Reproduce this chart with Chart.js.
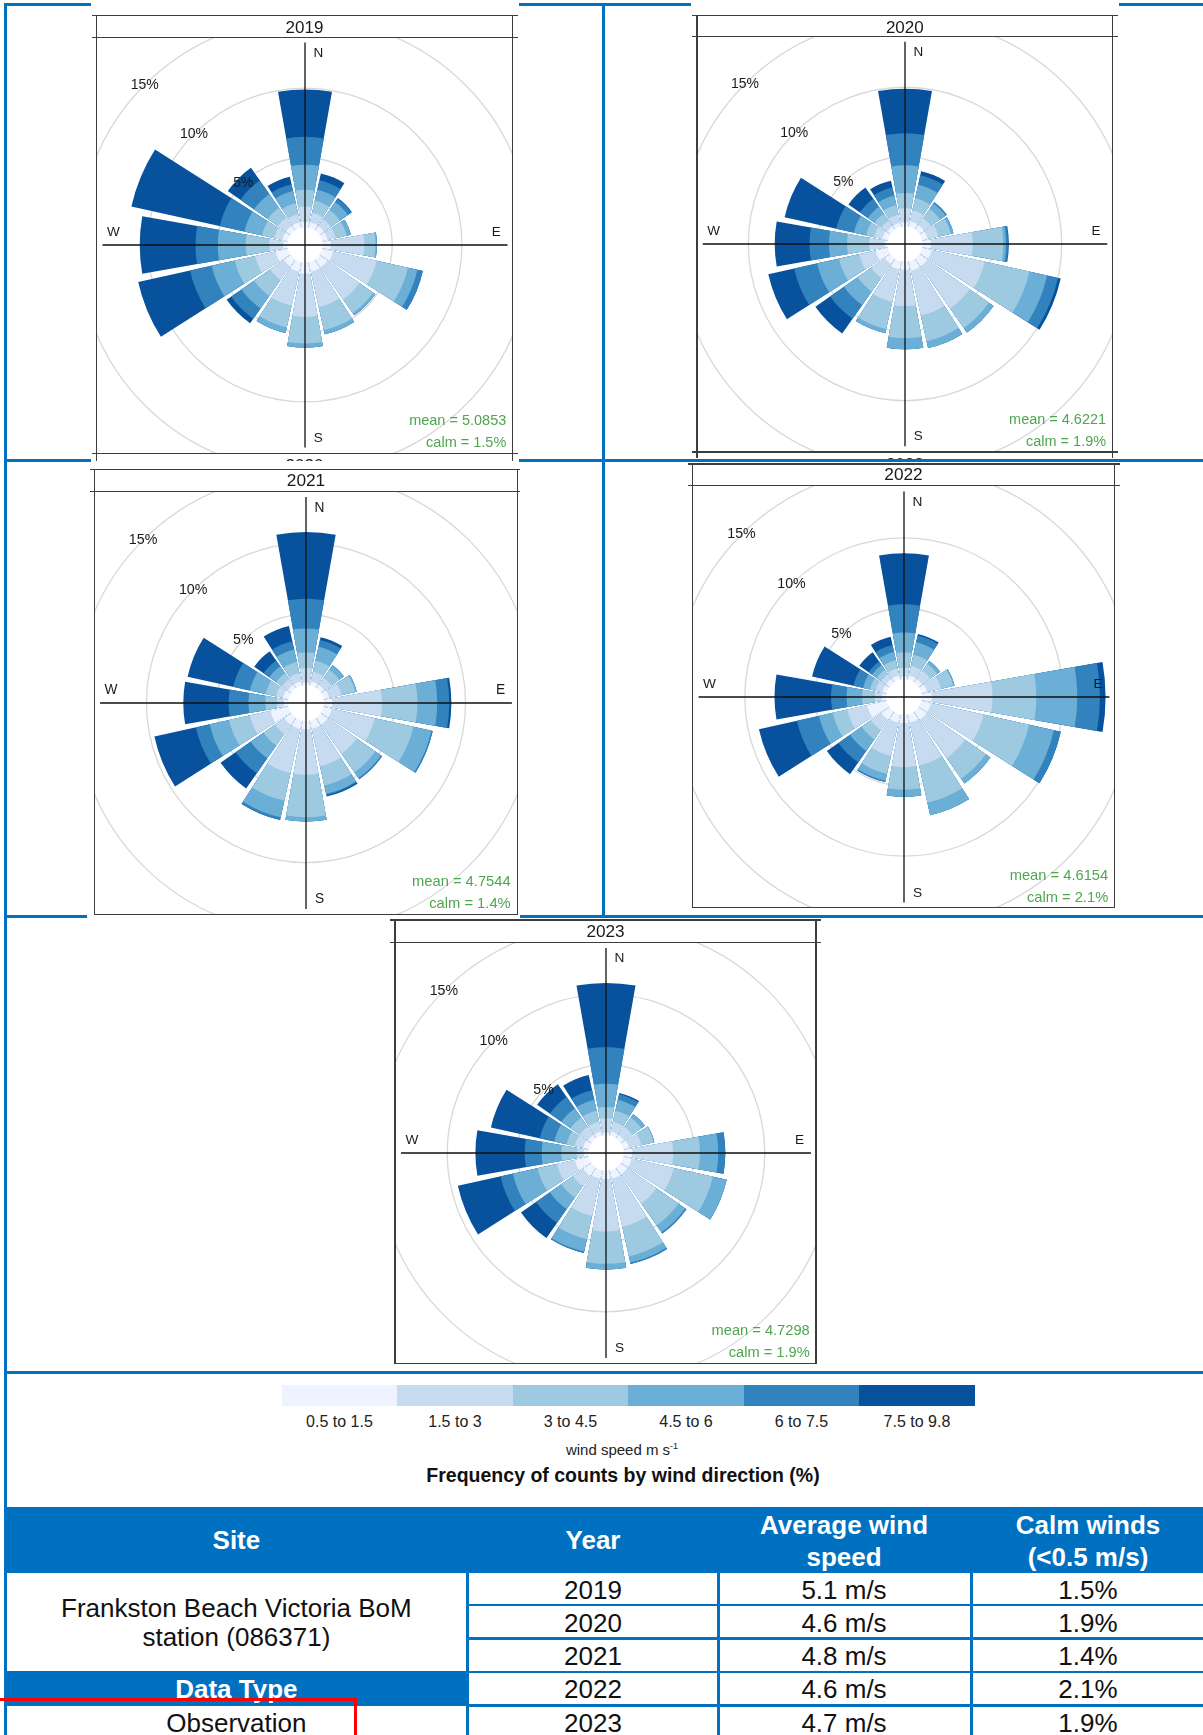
<!DOCTYPE html>
<html lang="en">
<head>
<meta charset="utf-8">
<title>Frankston Beach wind roses 2019–2023</title>
<script src="https://cdn.jsdelivr.net/npm/chart.js@4.4.1/dist/chart.umd.min.js"></script>
<style>
  html, body { margin: 0; padding: 0; background: #fff; }
  body { position: relative; width: 1203px; height: 1735px; overflow: hidden;
         font-family: "Liberation Sans", Arial, Helvetica, sans-serif; color: #111; }
  .box { position: absolute; }
  .plot { position: absolute; overflow: hidden; }
  .plot canvas { position: absolute; }
  .clip { position: absolute; overflow: hidden; }
  .t { position: absolute; white-space: nowrap; transform: translate(-50%, -50%);
       line-height: 1; text-align: center; }
  sup { font-size: 9px; line-height: 0; vertical-align: 6px; }
</style>
</head>
<body>
<script>
// ---- wind rose data: frequency (%) per direction and speed bin ----
const directions = ['N','NNE','NE','ENE','E','ESE','SE','SSE','S','SSW','SW','WSW','W','WNW','NW','NNW'];
const speedBins  = ['0.5 to 1.5','1.5 to 3','3 to 4.5','4.5 to 6','6 to 7.5','7.5 to 9.8'];
const binColours = ['#EFF3FF','#C6DBEF','#9ECAE1','#6BAED6','#3182BD','#08519C'];
const years      = ['2019','2020','2021','2022','2023'];
const meanSpeed  = ['5.0853','4.6221','4.7544','4.6154','4.7298'];
const calmShare  = ['1.5%','1.9%','1.4%','2.1%','1.9%'];
const ringTicks  = [5, 10, 15];

const freq2019 = [
  [0.4,1.1,1.2,1.8,2.0,3.4],[0.4,0.7,0.9,0.8,0.7,0.5],[0.4,0.6,0.8,0.7,0.3,0.05],[0.4,0.6,0.8,0.3,0,0],
  [0.6,2.4,0.8,0.1,0,0],[0.8,3.2,2.3,0.7,0.4,0],[0.7,2.8,1.2,0.2,0,0],[0.7,2.6,1.7,0.3,0,0],
  [0.8,3.1,1.9,0.3,0,0],[0.7,2.5,1.6,0.4,0,0],[0.6,1.2,1.4,1.1,0.9,0.4],[0.9,1.5,1.5,1.7,1.6,3.8],
  [0.3,1.0,1.7,2.0,1.6,4.0],[0.4,0.6,0.9,1.3,1.8,6.5],[0.4,0.7,0.9,1.2,1.2,1.1],[0.4,0.6,0.8,0.9,0.5,0.55]
];
const freq2020 = [
  [0.3,1.0,1.1,2.0,2.3,3.2],[0.4,0.8,0.9,1.0,0.7,0.3],[0.4,0.6,0.8,0.5,0.1,0],[0.4,0.8,0.9,0.2,0,0],
  [0.6,3.0,2.2,0.2,0.15,0.05],[0.7,3.9,3.3,1.3,0.8,0.2],[0.7,3.7,1.7,0.4,0,0],[0.7,3.3,1.9,0.5,0,0],
  [0.6,2.6,2.3,0.8,0,0],[0.6,2.4,2.0,0.3,0,0],[0.5,1.2,1.2,1.2,1.2,1.3],[0.9,1.2,1.5,1.6,1.7,1.9],
  [0.2,1.1,1.6,1.3,1.4,2.5],[0.4,0.6,0.6,0.9,1.3,3.8],[0.3,0.5,0.6,0.6,0.7,1.0],[0.3,0.6,0.7,0.7,0.6,0.5]
];
const freq2021 = [
  [0.2,1.0,1.1,1.7,2.1,4.7],[0.3,0.7,0.8,1.0,0.5,0.2],[0.3,0.6,0.7,0.4,0,0],[0.4,0.9,1.0,0.1,0,0],
  [0.6,3.5,2.5,1.4,0.85,0.15],[0.6,3.1,2.8,1.3,0.1,0],[0.6,2.5,1.6,0.5,0.1,0],[0.6,2.7,1.4,0.6,0.1,0.1],
  [0.6,3.2,3.0,0.3,0,0],[0.6,3.2,2.0,1.2,0.2,0],[0.6,0.8,1.0,1.1,1.3,1.3],[1.3,1.5,1.5,1.4,1.0,3.0],
  [0.3,0.5,0.8,1.2,1.4,3.2],[0.4,0.5,0.75,1.15,1.2,3.3],[0.3,0.5,0.5,0.6,0.5,0.8],[0.3,0.6,0.8,0.9,0.6,1.1]
];
const freq2022 = [
  [0.2,0.6,1.1,1.4,2.0,3.6],[0.3,0.7,0.8,0.9,0.5,0.1],[0.3,0.7,0.6,0.25,0,0],[0.4,1.0,0.9,0.1,0,0],
  [0.7,4.3,3.1,2.9,1.6,0.4],[0.7,3.8,3.3,1.8,0.5,0],[0.7,3.3,1.8,0.4,0,0],[0.6,3.1,2.7,0.9,0,0],
  [0.6,3.1,1.6,0.5,0,0],[0.6,2.4,1.3,0.5,0.1,0],[0.7,0.9,0.8,1.0,1.0,1.0],[1.4,1.45,1.05,1.0,1.6,2.75],
  [0.3,0.5,0.9,1.1,1.1,4.0],[0.3,0.5,0.4,0.5,0.7,3.0],[0.3,0.4,0.4,0.4,0.3,0.8],[0.3,0.5,0.6,0.6,0.5,0.6]
];
const freq2023 = [
  [0.2,1.0,0.8,1.65,2.6,4.55],[0.3,0.7,0.8,0.8,0.4,0.1],[0.3,0.7,0.8,0.3,0,0],[0.4,0.9,0.9,0.05,0,0],
  [0.6,2.9,1.9,1.3,0.5,0],[0.6,3.05,2.85,1.0,0,0],[0.6,2.5,1.9,0.6,0.1,0],[0.6,3.5,2.15,0.45,0.1,0],
  [0.6,3.7,2.3,0.4,0,0],[0.6,2.7,1.7,0.9,0.1,0],[0.7,0.9,1.0,1.0,1.2,1.3],[1.0,1.3,1.4,1.8,0.9,3.1],
  [0.3,0.5,1.1,1.4,1.2,3.5],[0.4,0.6,0.6,0.9,1.05,3.55],[0.3,0.7,0.8,0.8,1.0,1.1],[0.3,0.7,0.8,0.8,0.7,1.1]
];
const yearFreq = [freq2019, freq2020, freq2021, freq2022, freq2023];

// ---- summary table ----
const siteName  = ['Frankston Beach Victoria BoM', 'station (086371)'];
const dataType  = 'Observation';
const avgWind   = ['5.1 m/s','4.6 m/s','4.8 m/s','4.6 m/s','4.7 m/s'];
const calmWinds = ['1.5%','1.9%','1.4%','2.1%','1.9%'];

// ---- page layout ----
const BLUE = '#0070C0';
const FONT = '"Liberation Sans", Arial, Helvetica, sans-serif';
const page = document.body;

function rect(x, y, w, h, color, parent) {
  const d = document.createElement('div');
  d.className = 'box';
  Object.assign(d.style, { left: x + 'px', top: y + 'px', width: w + 'px', height: h + 'px' });
  if (color) d.style.background = color;
  (parent || page).appendChild(d);
  return d;
}
function text(str, x, y, size, o = {}) {
  const d = document.createElement('div');
  d.className = 't';
  Object.assign(d.style, { left: x + 'px', top: y + 'px', fontSize: size + 'px' });
  if (o.bold) d.style.fontWeight = 'bold';
  if (o.color) d.style.color = o.color;
  if (o.lh) d.style.lineHeight = o.lh + 'px';
  if (o.html) d.innerHTML = str; else d.textContent = str;
  (o.parent || page).appendChild(d);
  return d;
}

// blue cell rules behind the plots
rect(4, 3, 1199, 3, BLUE);
rect(4, 3, 3, 1732, BLUE);
rect(602, 3, 3, 915, BLUE);
rect(4, 459, 1199, 3, BLUE);
rect(4, 915, 1199, 3, BLUE);
rect(4, 1371, 1199, 3, BLUE);

// panel placement: frame left/top, strip height, plot size, white backing box
const panelLayout = [
  { L: 96.5,  T: 15.7,  strip: 21.6, S: 416,   img: [91.4, 0, 428.1, 461.5], tail: '2020' },
  { L: 697,   T: 15.7,  strip: 21.0, S: 415.5, img: [691, 0, 428, 458.5],   tail: '2022' },
  { L: 94.5,  T: 469.5, strip: 22.2, S: 423,   img: [86.7, 467.5, 433.3, 450.5] },
  { L: 692.5, T: 464.2, strip: 21.5, S: 422,   img: [687, 462, 433.5, 451] },
  { L: 395,   T: 920,   strip: 22.3, S: 421,   img: [388, 918, 436, 451] }
];

// labels, compass cross and calm hole drawn over the stacked sectors
const roseOverlay = {
  id: 'roseOverlay',
  afterDatasetsDraw(chart, args, o) {
    const sc = chart.scales.r, ctx = chart.ctx;
    const cx = sc.xCenter, cy = sc.yCenter, f = o.f;
    ctx.save();
    ctx.fillStyle = '#fff';
    ctx.beginPath();
    ctx.arc(cx, cy, sc.getDistanceFromCenterForValue(0), 0, Math.PI * 2);
    ctx.fill();

    const h = 202.5 * f;
    ctx.strokeStyle = '#111';
    ctx.lineWidth = 1.3;
    ctx.beginPath();
    ctx.moveTo(cx - h, cy); ctx.lineTo(cx + h, cy);
    ctx.moveTo(cx, cy - h); ctx.lineTo(cx, cy + h);
    ctx.stroke();

    ctx.fillStyle = '#1a1a1a';
    ctx.textAlign = 'center';
    ctx.textBaseline = 'middle';
    ctx.font = (13.5 * f).toFixed(2) + 'px ' + FONT;
    ctx.fillText('N', cx + 13.3 * f, cy - 192 * f);
    ctx.fillText('E', cx + 191.3 * f, cy - 13 * f);
    ctx.fillText('S', cx + 13.3 * f, cy + 193 * f);
    ctx.fillText('W', cx - 191.7 * f, cy - 13 * f);

    ctx.font = (14 * f).toFixed(2) + 'px ' + FONT;
    ringTicks.forEach(v => {
      const d = sc.getDistanceFromCenterForValue(v) * Math.SQRT1_2;
      ctx.fillText(v + '%', cx - d, cy - d);
    });

    ctx.fillStyle = '#4fa64f';
    ctx.textAlign = 'right';
    ctx.font = (14.5 * f).toFixed(2) + 'px ' + FONT;
    ctx.fillText('mean = ' + o.mean, cx + 201.3 * f, cy + 176 * f);
    ctx.fillText('calm = ' + o.calm, cx + 201.3 * f, cy + 198 * f);
    ctx.restore();
  }
};

const BAR = 20, GAP = 2.5;     // sector and gap widths in degrees
const HALF = 310;              // canvas half size = radial drawing area

function drawRose(canvas, freq, lay, idx) {
  const k = 14.1 * lay.S / 421;        // px per percent
  const hole = 17.8 * lay.S / 421;     // calm hole radius
  const rMin = -hole / k;
  const rMax = rMin + HALF / k;

  const labels = [];
  directions.forEach(d => labels.push(d, ''));

  const datasets = speedBins.map((bin, j) => {
    const data = [];
    freq.forEach(row => {
      let c = 0;
      for (let m = 0; m <= j; m++) c += row[m];
      data.push(c, rMin);
    });
    return {
      label: bin,
      data,
      backgroundColor: binColours[j],
      borderWidth: 0,
      angle: ctx => (ctx.dataIndex % 2 ? GAP : BAR)
    };
  });

  new Chart(canvas, {
    type: 'polarArea',
    data: { labels, datasets },
    plugins: [roseOverlay],
    options: {
      responsive: false,
      animation: false,
      events: [],
      devicePixelRatio: 1,
      layout: { padding: 0 },
      plugins: {
        legend: { display: false },
        tooltip: { enabled: false },
        roseOverlay: { f: lay.S / 416, mean: meanSpeed[idx], calm: calmShare[idx] }
      },
      scales: {
        r: {
          min: rMin, max: rMax,
          startAngle: -BAR / 2,
          ticks: { display: false },
          pointLabels: { display: false },
          angleLines: { display: false },
          afterBuildTicks: sc => { sc.ticks = [rMin, 5, 10, 15, 20].map(v => ({ value: v })); },
          grid: {
            circular: true,
            lineWidth: 1.3,
            color: c => (c.index === 0 ? 'rgba(0,0,0,0)' : '#d8d8d8')
          }
        }
      }
    }
  });
}

const FRAME = '#3d3d3d', LW = 1.6;
years.forEach((yr, i) => {
  const lay = panelLayout[i];
  const [ix, iy, iw, ih] = lay.img;
  rect(ix, iy, iw, ih, '#fff');
  const f = lay.S / 416;
  const left = lay.L, right = lay.L + lay.S;
  const top = lay.T, sb = lay.T + lay.strip, bot = sb + lay.S;
  const ext0 = Math.max(ix, left - 5), ext1 = Math.min(ix + iw, right + 5);

  const plot = rect(left, sb, lay.S, lay.S);
  plot.className = 'plot';
  const cv = document.createElement('canvas');
  cv.width = HALF * 2; cv.height = HALF * 2;
  cv.style.left = (lay.S / 2 - HALF) + 'px';
  cv.style.top = (lay.S / 2 - HALF) + 'px';
  plot.appendChild(cv);
  drawRose(cv, yearFreq[i], lay, i);

  const vEnd = lay.tail ? iy + ih : bot;
  rect(ext0, top - LW / 2, ext1 - ext0, LW, FRAME);
  rect(ext0, sb - LW / 2, ext1 - ext0, LW, FRAME);
  rect(lay.tail ? ext0 : left - LW / 2, bot - LW / 2, (lay.tail ? ext1 - ext0 : lay.S + LW), LW, FRAME);
  rect(left - LW / 2, top - LW / 2, LW, vEnd - top + LW / 2, FRAME);
  rect(right - LW / 2, top - LW / 2, LW, vEnd - top + LW / 2, FRAME);
  text(yr, left + lay.S / 2, top + lay.strip / 2 + 0.5, 17 * f, { color: '#1a1a1a' });

  if (lay.tail) {
    const clip = rect(left, bot + LW / 2, lay.S, iy + ih - bot - LW / 2);
    clip.className = 'clip';
    text(lay.tail, lay.S / 2, 10.5, 17 * f, { color: '#1a1a1a', parent: clip });
  }
});

// ---- speed legend ----
speedBins.forEach((lab, i) => {
  rect(281.7 + i * 115.5, 1385.3, 115.8, 21, binColours[i]);
  text(lab, 339.45 + i * 115.5, 1422, 16, { color: '#222' });
});
text('wind speed m s<sup>-1</sup>', 622, 1448.5, 15, { html: true, color: '#222' });
text('Frequency of counts by wind direction (%)', 623, 1476, 19.5, { bold: true, color: '#111' });

// ---- summary table ----
rect(4, 1506.5, 1199, 66, BLUE);
text('Site', 236.4, 1540, 26, { bold: true, color: '#fff' });
text('Year', 593, 1540, 26, { bold: true, color: '#fff' });
text('Average wind<br>speed', 844, 1540.5, 26, { bold: true, color: '#fff', html: true, lh: 32 });
text('Calm winds<br>(&lt;0.5 m/s)', 1088, 1540.5, 26, { bold: true, color: '#fff', html: true, lh: 32 });

rect(4, 1671, 464, 34.5, BLUE);
text(siteName.join('<br>'), 236.4, 1622.5, 26, { html: true, lh: 29 });
text('Data Type', 236.4, 1689, 26, { bold: true, color: '#fff' });
text(dataType, 236.4, 1722.5, 26);

const rowCentres = [1590, 1623.3, 1656, 1689.3, 1722.7];
years.forEach((yr, i) => {
  text(yr, 593, rowCentres[i], 26);
  text(avgWind[i], 844, rowCentres[i], 26);
  text(calmWinds[i], 1088, rowCentres[i], 26);
});
[1603.8, 1637, 1670.5, 1704].forEach(y => rect(466, y, 737, 2.6, BLUE));
[465.8, 716.5, 969.5].forEach(x => rect(x, 1572, 3, 163, BLUE));

// red outline
rect(0, 1698, 357, 2.8, '#ff0000');
rect(354.2, 1698, 2.8, 37, '#ff0000');
</script>
</body>
</html>
